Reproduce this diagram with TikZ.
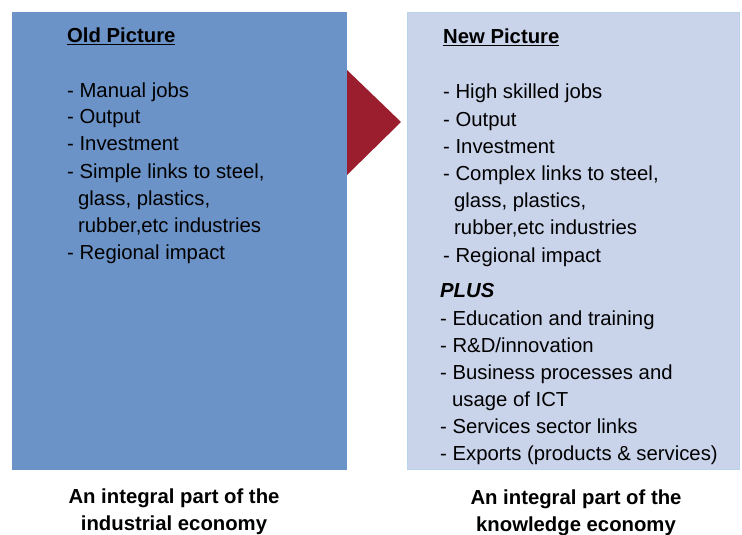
\documentclass[tikz,border=0pt]{standalone}
\usepackage{fontspec}
\setmainfont{Liberation Sans}
\begin{document}
\begin{tikzpicture}[x=1pt,y=-1pt,
  oldfill/.style={fill={rgb,255:red,108;green,147;blue,200}, draw=none},
  newfill/.style={fill={rgb,255:red,201;green,211;blue,234}, draw={rgb,255:red,184;green,210;blue,236}, line width=1pt},
  arrowfill/.style={fill={rgb,255:red,155;green,30;blue,46}, draw=none},
  txt/.style={anchor=base west, inner sep=0pt, font=\fontsize{20.3}{24}\selectfont},
  heading/.style={txt, font=\fontsize{20.3}{24}\selectfont\bfseries},
  caption/.style={anchor=base, inner sep=0pt, font=\fontsize{20.3}{24}\selectfont\bfseries}]
\useasboundingbox (0,0) rectangle (742,535);
% the two panels and the arrow between them
\fill[oldfill] (12,12) rectangle (347,470);
\draw[newfill] (407.5,12.5) rectangle (739.5,469.5);
\fill[arrowfill] (347,70) -- (401,122) -- (347,175) -- cycle;
% left panel text
\node[heading] (oh) at (67,43) {\underline{Old Picture}};
\node[txt] (o1) at (67,97) {- Manual jobs};
\node[txt] (o2) at (67,124) {- Output};
\node[txt] (o3) at (67,150) {- Investment};
\node[txt] (o4) at (67,178) {- Simple links to steel,};
\node[txt] (o5) at (78,205) {glass, plastics,};
\node[txt] (o6) at (78,232) {rubber,etc industries};
\node[txt] (o7) at (67,259) {- Regional impact};
% right panel text
\node[heading] (nh) at (443,44) {\underline{New Picture}};
\node[txt] (n1) at (443,99) {- High skilled jobs};
\node[txt] (n2) at (443,126) {- Output};
\node[txt] (n3) at (443,153) {- Investment};
\node[txt] (n4) at (443,180) {- Complex links to steel,};
\node[txt] (n5) at (454,207) {glass, plastics,};
\node[txt] (n6) at (454,234) {rubber,etc industries};
\node[txt] (n7) at (443,262) {- Regional impact};
\node[heading, font=\fontsize{20.3}{24}\selectfont\bfseries\itshape] (plus) at (440,297) {PLUS};
\node[txt] (p1) at (440,325) {- Education and training};
\node[txt] (p2) at (440,352) {- R\&D/innovation};
\node[txt] (p3) at (440,379) {- Business processes and};
\node[txt] (p4) at (452,406) {usage of ICT};
\node[txt] (p5) at (440,433) {- Services sector links};
\node[txt] (p6) at (440,460) {- Exports (products \& services)};
% captions below the panels
\node[caption] (c1) at (174,503) {An integral part of the};
\node[caption] (c2) at (174,530) {industrial economy};
\node[caption] (c3) at (576,504) {An integral part of the};
\node[caption] (c4) at (576,531) {knowledge economy};
\end{tikzpicture}
\end{document}
